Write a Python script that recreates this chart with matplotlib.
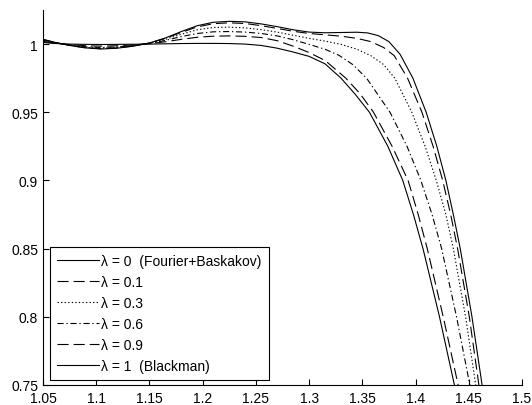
import numpy as np
import matplotlib
matplotlib.use('Agg')
import matplotlib.pyplot as plt

plt.rcParams['font.family'] = ['Liberation Sans', 'DejaVu Sans']
plt.rcParams['font.size'] = 10

# wspolne punkty x dla lewej czesci (tetnienia w pasmie)
x_left = [1.05, 1.06, 1.075, 1.09, 1.105, 1.12, 1.135, 1.15, 1.165, 1.18,
          1.195, 1.21, 1.225, 1.24, 1.255, 1.27, 1.285, 1.30]

# lambda = 0 (Fourier+Baskakov)
y0_left = [1.0035, 1.0015, 0.999, 0.9972, 0.9964, 0.997, 0.9985, 1.0008, 1.0045, 1.0092,
           1.0135, 1.016, 1.0167, 1.0163, 1.0148, 1.0128, 1.0105, 1.0088]
x0_tail = [1.315, 1.33, 1.345, 1.355, 1.365, 1.375, 1.3855, 1.3975, 1.41, 1.42,
           1.4285, 1.4355, 1.442, 1.453, 1.4625, 1.472]
y0_tail = [1.0083, 1.0085, 1.0087, 1.0082, 1.0062, 1.0018, 0.9925, 0.975, 0.95, 0.925,
           0.9, 0.875, 0.85, 0.8, 0.75, 0.70]

# lambda = 0.1
y1_left = [1.0034, 1.0014, 0.999, 0.9973, 0.9966, 0.9972, 0.9986, 1.0008, 1.0042, 1.0086,
           1.0126, 1.015, 1.0156, 1.0151, 1.0135, 1.0115, 1.0094, 1.0078]
x1_tail = [1.315, 1.33, 1.345, 1.358, 1.37, 1.38, 1.3925, 1.406, 1.4165, 1.4255,
           1.433, 1.4395, 1.4505, 1.4595, 1.469]
y1_tail = [1.0068, 1.0058, 1.0042, 1.0018, 0.9975, 0.9915, 0.975, 0.95, 0.925, 0.9,
           0.875, 0.85, 0.8, 0.75, 0.70]

# lambda = 0.3
y3_left = [1.0032, 1.0013, 0.9992, 0.9976, 0.997, 0.9976, 0.9988, 1.0007, 1.0035, 1.0072,
           1.0105, 1.0122, 1.0124, 1.0119, 1.0106, 1.0088, 1.0065, 1.0042]
x3_tail = [1.315, 1.33, 1.345, 1.358, 1.37, 1.3805, 1.3965, 1.409, 1.4195, 1.4285,
           1.4355, 1.447, 1.4565, 1.466]
y3_tail = [1.0022, 0.9998, 0.9962, 0.9915, 0.985, 0.975, 0.95, 0.925, 0.9, 0.875,
           0.85, 0.8, 0.75, 0.70]

# lambda = 0.6
y6_left = [1.003, 1.0012, 0.9994, 0.998, 0.9975, 0.998, 0.999, 1.0005, 1.0027, 1.0055,
           1.0078, 1.009, 1.0092, 1.0088, 1.0078, 1.006, 1.0032, 0.9998]
x6_tail = [1.315, 1.328, 1.341, 1.354, 1.376, 1.392, 1.405, 1.4155, 1.4245, 1.4385,
           1.451, 1.461]
y6_tail = [0.9962, 0.9918, 0.985, 0.975, 0.95, 0.925, 0.9, 0.875, 0.85, 0.8,
           0.75, 0.70]

# lambda = 0.9
y9_left = [1.002, 1.0008, 0.9996, 0.9988, 0.9985, 0.9988, 0.9994, 1.0003, 1.0017, 1.0035,
           1.005, 1.0058, 1.006, 1.0057, 1.0048, 1.0025, 0.9985, 0.9938]
x9_tail = [1.315, 1.3345, 1.348, 1.3605, 1.378, 1.393, 1.4025, 1.411, 1.426, 1.44, 1.4505]
y9_tail = [0.988, 0.975, 0.9635, 0.95, 0.925, 0.9, 0.875, 0.85, 0.8, 0.75, 0.70]

# lambda = 1 (Blackman)
y10_left = [1.0012, 1.0005, 1.0, 0.9998, 0.9997, 0.9998, 0.9999, 1.0, 1.0002, 1.0004,
            1.0005, 1.0005, 1.0004, 1.0, 0.999, 0.997, 0.9942, 0.991]
x10_tail = [1.315, 1.33, 1.343, 1.3567, 1.374, 1.388, 1.398, 1.407, 1.4225, 1.4365, 1.447]
y10_tail = [0.9855, 0.975, 0.9635, 0.95, 0.925, 0.9, 0.875, 0.85, 0.8, 0.75, 0.70]

labels = [u'\u03bb = 0  (Fourier+Baskakov)', u'\u03bb = 0.1', u'\u03bb = 0.3',
          u'\u03bb = 0.6', u'\u03bb = 0.9', u'\u03bb = 1  (Blackman)']

xticks = [1.05, 1.1, 1.15, 1.2, 1.25, 1.3, 1.35, 1.4, 1.45, 1.5]
xtick_labels = ['1.05', '1.1', '1.15', '1.2', '1.25', '1.3', '1.35', '1.4', '1.45', '1.5']
yticks = [0.75, 0.8, 0.85, 0.9, 0.95, 1.0]
ytick_labels = ['0.75', '0.8', '0.85', '0.9', '0.95', '1']

curves = [(x_left + x0_tail, y0_left + y0_tail),
          (x_left + x1_tail, y1_left + y1_tail),
          (x_left + x3_tail, y3_left + y3_tail),
          (x_left + x6_tail, y6_left + y6_tail),
          (x_left + x9_tail, y9_left + y9_tail),
          (x_left + x10_tail, y10_left + y10_tail)]

# style linii jak w matlabie: ciagla, kreskowana, kropkowana, kreska-kropka
dash_styles = [None, (10, 4.5), (1.2, 2), (5.5, 2.5, 1.2, 2.5), (10, 4.5), None]

fig = plt.figure(figsize=(5.32, 4.06), dpi=100)
ax = fig.add_axes([0.0808, 0.0493, 0.9004, 0.9236])

for (xs, ys), lab, ds in zip(curves, labels, dash_styles):
    line, = ax.plot(xs, ys, color='k', lw=0.8, label=lab)
    if ds is not None:
        line.set_dashes(ds)

ax.set_xlim(1.05, 1.5)
ax.set_ylim(0.75, 1.025)
ax.set_xticks(xticks)
ax.set_xticklabels(xtick_labels)
ax.set_yticks(yticks)
ax.set_yticklabels(ytick_labels)

ax.spines['top'].set_visible(False)
ax.spines['right'].set_visible(False)
ax.spines['left'].set_linewidth(0.8)
ax.spines['bottom'].set_linewidth(0.8)
ax.tick_params(direction='in', length=4, width=0.8)
ax.tick_params(axis='x', pad=4)
ax.tick_params(axis='y', pad=3.5)

leg = ax.legend(loc='lower left', bbox_to_anchor=(0.0146, 0.0133), borderaxespad=0,
                fancybox=False, framealpha=1, edgecolor='k', handlelength=3.0,
                handletextpad=0.2, labelspacing=0.5, borderpad=0.5, fontsize=10)
leg.get_frame().set_linewidth(0.8)

fig.savefig('out.png', dpi=100)
